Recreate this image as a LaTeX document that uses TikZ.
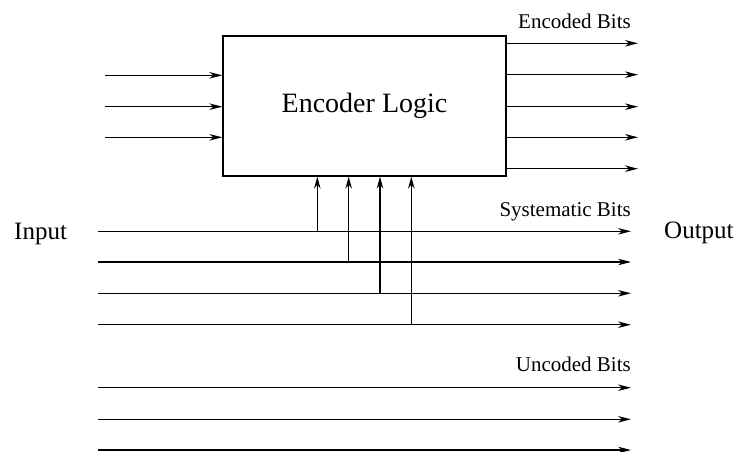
\documentclass[tikz,border=0pt]{standalone}
\usepackage{fontspec}
\setmainfont{Liberation Serif}
\usetikzlibrary{arrows.meta}
\begin{document}
\begin{tikzpicture}[x=1pt,y=-1pt,
  wire/.style={line width=1.3pt,-{Stealth[length=13pt,width=6.5pt,inset=4pt]}},
  tapline/.style={line width=1.2pt,-{Stealth[length=12pt,width=6.5pt,inset=4pt]}},
  blk/.style={draw,line width=1.3pt,minimum width=283pt,minimum height=140pt,inner sep=0pt,
    font=\fontsize{28}{32}\selectfont},
  lbl/.style={font=\fontsize{21}{24}\selectfont,inner sep=0pt},
  io/.style={font=\fontsize{25}{28}\selectfont,inner sep=0pt}]
\useasboundingbox (0,0) rectangle (734,452);
\node[blk] (enc) at (364.5,106) {Encoder Logic};
% left inputs
\foreach \i/\y in {1/75.3,2/106.7,3/137.3}{
  \coordinate (in\i) at (105,\y);
  \draw[wire] (in\i) -- (in\i -| enc.west);
}
% encoded outputs
\foreach \i/\y in {1/43.3,2/74.7,3/106.7,4/137.3,5/168.7}{
  \coordinate (out\i) at (638,\y);
  \draw[wire] (out\i -| enc.east) -- (out\i);
}
% systematic lines and taps
\foreach \i/\y/\tx in {1/231.3/317.3,2/262/348.7,3/293.3/380,4/324.7/411.3}{
  \coordinate (s\i) at (98,\y);
  \coordinate (se\i) at (631,\y);
  \coordinate (t\i) at (\tx,\y);
  \draw[wire] (s\i) -- (se\i);
  \draw[tapline] (t\i) -- (t\i |- enc.south);
}
% uncoded lines
\foreach \i/\y in {1/387.7,2/419.3,3/450}{
  \coordinate (u\i) at (98,\y);
  \coordinate (ue\i) at (631,\y);
  \draw[wire] (u\i) -- (ue\i);
}
\node[lbl,anchor=base east] (encl) at (631,29) {Encoded Bits};
\node[lbl,anchor=base east] (sysl) at (631,216) {Systematic Bits};
\node[lbl,anchor=base east] (uncl) at (631,371.7) {Uncoded Bits};
\node[io,anchor=base west] (inp) at (14,239.3) {Input};
\node[io,anchor=base west] (outp) at (664,238) {Output};
\end{tikzpicture}
\end{document}
